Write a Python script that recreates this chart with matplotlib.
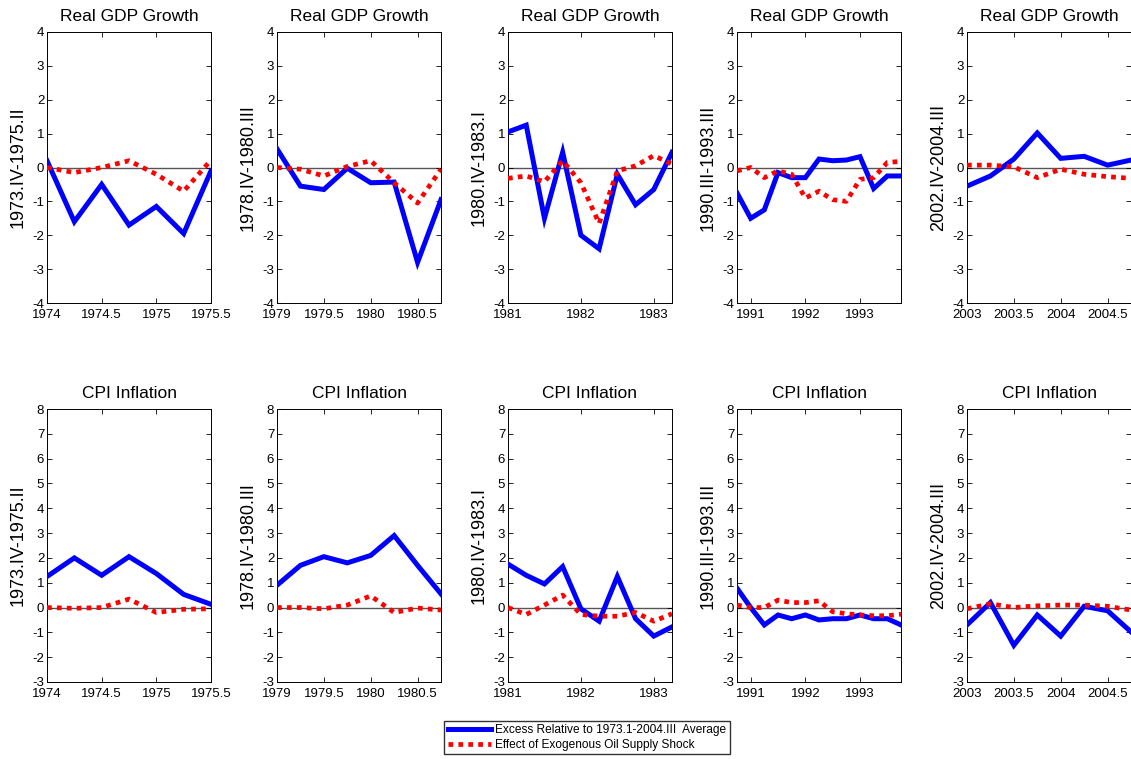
"""Oil supply shock episodes: real GDP growth and CPI inflation, excess vs oil effect."""
import matplotlib.pyplot as plt
import matplotlib as mpl
from matplotlib.ticker import FuncFormatter

# episodes (x axis in MATLAB-style dates: first quarter of episode -> START)
PERIODS = ["1973.IV-1975.II", "1978.IV-1980.III", "1980.IV-1983.I",
           "1990.III-1993.III", "2002.IV-2004.III"]
START = [1974.0, 1979.0, 1981.0, 1990.75, 2003.0]
XTICKS = [[1974, 1974.5, 1975, 1975.5],
          [1979, 1979.5, 1980, 1980.5],
          [1981, 1982, 1983],
          [1991, 1992, 1993],
          [2003, 2003.5, 2004, 2004.5]]

GDP_EXCESS = [
    [0.2, -1.6, -0.5, -1.7, -1.15, -1.95, -0.1],
    [0.55, -0.55, -0.65, -0.02, -0.45, -0.43, -2.8, -0.95],
    [1.05, 1.25, -1.5, 0.45, -2.0, -2.4, -0.2, -1.1, -0.65, 0.45],
    [-0.75, -1.5, -1.25, -0.15, -0.3, -0.3, 0.25, 0.2, 0.22, 0.32, -0.62, -0.25, -0.25],
    [-0.55, -0.25, 0.25, 1.02, 0.27, 0.33, 0.07, 0.22],
]
GDP_OIL = [
    [0.0, -0.15, 0.0, 0.2, -0.2, -0.7, 0.22],
    [0.0, -0.05, -0.25, 0.03, 0.2, -0.45, -1.05, -0.05],
    [-0.32, -0.25, -0.42, 0.2, -0.45, -1.65, -0.1, 0.05, 0.35, 0.1],
    [-0.1, 0.0, -0.3, -0.1, -0.2, -0.9, -0.7, -0.95, -1.0, -0.35, -0.3, 0.15, 0.18],
    [0.07, 0.07, 0.02, -0.3, -0.05, -0.2, -0.27, -0.32],
]
CPI_EXCESS = [
    [1.25, 2.0, 1.3, 2.05, 1.37, 0.53, 0.13],
    [0.9, 1.7, 2.05, 1.8, 2.1, 2.9, 1.7, 0.55],
    [1.75, 1.3, 0.95, 1.65, -0.05, -0.55, 1.25, -0.45, -1.15, -0.78],
    [0.78, 0.0, -0.7, -0.3, -0.45, -0.3, -0.5, -0.45, -0.45, -0.3, -0.45, -0.45, -0.7],
    [-0.7, 0.2, -1.52, -0.3, -1.15, 0.05, -0.13, -0.98],
]
CPI_OIL = [
    [0.0, -0.03, 0.0, 0.34, -0.2, -0.07, -0.05],
    [0.0, 0.0, -0.05, 0.1, 0.47, -0.2, -0.02, -0.1],
    [0.0, -0.28, 0.1, 0.5, -0.28, -0.35, -0.35, -0.2, -0.55, -0.25],
    [0.1, 0.0, 0.0, 0.3, 0.2, 0.2, 0.27, -0.17, -0.25, -0.3, -0.33, -0.33, -0.27],
    [-0.05, 0.15, 0.0, 0.07, 0.1, 0.1, 0.05, -0.1],
]

LEG_EXCESS = "Excess Relative to 1973.1-2004.III  Average"
LEG_OIL = "Effect of Exogenous Oil Supply Shock"

mpl.rcParams["font.family"] = ["Liberation Sans", "DejaVu Sans"]
mpl.rcParams["axes.unicode_minus"] = False

W, H = 1131, 759
fig = plt.figure(figsize=(W / 100, H / 100), dpi=100)
fig.patch.set_facecolor("white")

LEFTS = [47, 277, 508, 737, 967]
AX_W = 164
ROWS = [  # (top px, bottom px, title, ylim, yticks, excess, oil)
    (32, 303, "Real GDP Growth", (-4, 4), range(-4, 5), GDP_EXCESS, GDP_OIL),
    (409, 682, "CPI Inflation", (-3, 8), range(-3, 9), CPI_EXCESS, CPI_OIL),
]

fmt = FuncFormatter(lambda v, p: f"{v:g}")
handles = None
for top, bot, title, ylim, yticks, excess, oil in ROWS:
    for i, left in enumerate(LEFTS):
        ax = fig.add_axes([left / W, 1 - bot / H, AX_W / W, (bot - top) / H])
        n = len(excess[i])
        x = [START[i] + 0.25 * k for k in range(n)]
        ax.axhline(0, color="#555555", lw=1.0, zorder=1)
        h1, = ax.plot(x, excess[i], color="#0000ff", lw=3.6, solid_joinstyle="miter",
                      zorder=3)
        h2, = ax.plot(x, oil[i], color="#ff0000", lw=3.4, linestyle=(0, (1, 1.1)),
                      dash_capstyle="butt", zorder=4)
        handles = (h1, h2)
        ax.set_xlim(x[0], x[-1])
        ax.set_ylim(*ylim)
        ax.set_yticks(list(yticks))
        ax.set_xticks(XTICKS[i])
        ax.xaxis.set_major_formatter(fmt)
        ax.tick_params(direction="in", top=True, right=True, length=3.5, width=0.6,
                       labelsize=9.5)
        ax.tick_params(axis="y", pad=2)
        ax.tick_params(axis="x", pad=4)
        for s in ax.spines.values():
            s.set_linewidth(0.7)
        ax.set_title(title, fontsize=12.5, pad=8)
        ax.set_ylabel(PERIODS[i], fontsize=13, labelpad=4)

leg = fig.legend(handles, [LEG_EXCESS, LEG_OIL], loc="center",
                 bbox_to_anchor=(587 / W, 1 - 737.5 / H), fontsize=8.6,
                 frameon=True, fancybox=False, edgecolor="black", handlelength=3.6,
                 handletextpad=0.4, borderpad=0.3, labelspacing=0.2,
                 borderaxespad=0)
leg.get_frame().set_linewidth(1.0)

fig.savefig("out.png", dpi=100, facecolor="white")
